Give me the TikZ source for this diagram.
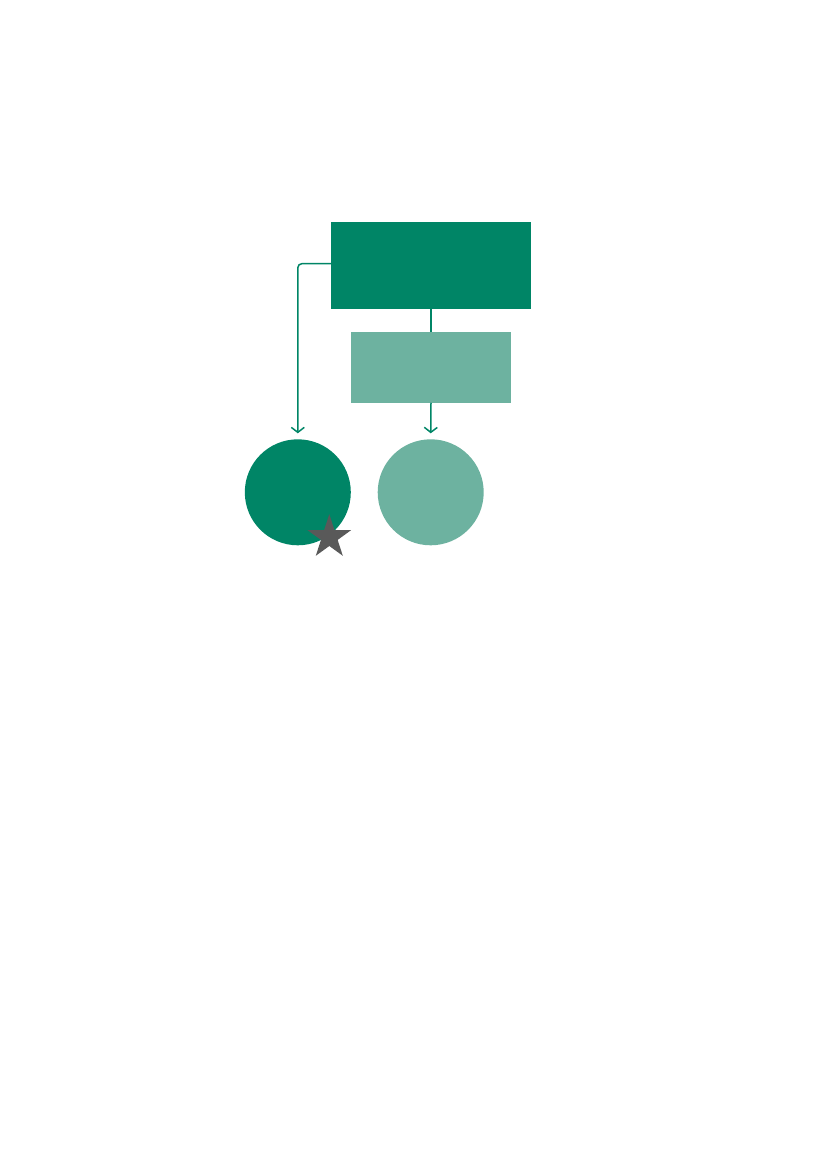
\documentclass[tikz,border=0pt]{standalone}
\usepackage{tikz}
\usetikzlibrary{arrows.meta}
\usetikzlibrary{positioning}
\usetikzlibrary{shapes.geometric}
\definecolor{darkgreen}{RGB}{0,133,102}
\definecolor{lightgreen}{RGB}{109,178,160}
\definecolor{stargray}{RGB}{89,89,89}
\tikzset{>={Straight Barb[length=5pt,width=13pt]}}
\tikzset{box/.style = {rectangle, draw=none, inner sep=0, outer sep=0}}
\tikzset{ball/.style = {circle, draw=none, inner sep=0, outer sep=0, minimum size=106pt}}
\tikzset{link/.style = {line width=1.5pt, draw=darkgreen}}

\begin{document}
\begin{tikzpicture}[x=1pt, y=-1pt]
\useasboundingbox (0,0) rectangle (827,1169);
%\node [draw=none] at (431,180) {};
\node [box, fill=darkgreen, minimum width=200pt, minimum height=87pt] (top) at (431, 265.5) {};
\node [box, fill=lightgreen, minimum width=160pt, minimum height=70.5pt] (mid) at (431, 367.5) {};
\node [ball, fill=darkgreen] (left) at (297.8, 492.3) {};
\node [ball, fill=lightgreen] (right) at (430.7, 492.3) {};
\node [star, star points=5, star point ratio=2.618, fill=stargray, inner sep=0, minimum size=46pt] (mark) at (329.3, 537.2) {};
\draw [link] (top.south) to (mid.north);
\draw [link, ->, shorten >=6pt] (mid.south) to (right.north);
\draw [link, ->, rounded corners=4pt, shorten >=6pt] ([yshift=1.8pt]top.west) -| (left.north);
\end{tikzpicture}
\end{document}
